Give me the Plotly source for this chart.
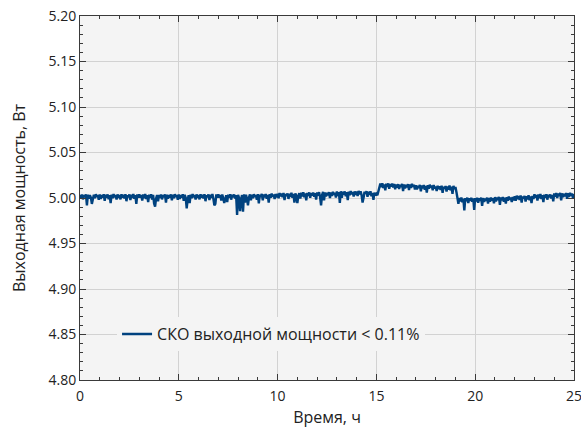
import plotly.graph_objects as go

time_step_h = 0.05
# Output power, mW, one reading every 0.05 h (20 readings per hour, 0..25 h)
power_mw = [
    # 0 h
    5003.5, 5000.0, 5003.9, 4998.5, 5003.3, 5000.7, 5004.1, 4992.0, 5003.6, 4999.3,
    5003.1, 5000.5, 4993.5, 4997.5, 5003.7, 4999.7, 5004.2, 5001.0, 5003.4, 4998.0,
    # 1 h
    5003.8, 4999.0, 5003.2, 5000.6, 5004.1, 4997.0, 5003.5, 5000.3, 5003.9, 4998.7,
    5003.0, 4994.5, 5003.7, 4999.9, 5004.3, 5000.8, 5003.4, 4998.3, 5004.0, 5000.1,
    # 2 h
    5003.3, 4998.5, 5004.1, 5000.4, 5003.6, 4999.5, 5004.2, 4996.5, 5003.1, 5000.9,
    5003.8, 4997.7, 5003.5, 5000.0, 5004.4, 4999.1, 5003.2, 4993.5, 5003.9, 5000.5,
    # 3 h
    5004.0, 5000.6, 5003.4, 4997.3, 5003.8, 4999.8, 5004.3, 4998.9, 5003.0, 4995.5,
    5003.7, 5000.3, 5004.1, 4998.2, 5003.5, 4994.0, 4990.5, 4999.5, 5003.3, 4996.3,
    # 4 h
    5003.5, 5000.0, 5003.9, 4998.5, 5003.3, 5000.7, 5004.1, 4995.0, 5003.6, 4999.3,
    5003.1, 5000.5, 5004.0, 4997.5, 5003.7, 4999.7, 5004.2, 5001.0, 5003.4, 4998.0,
    # 5 h
    5003.8, 4999.0, 5003.2, 5000.6, 5004.1, 4997.0, 5003.5, 5000.3, 4988.5, 4998.7,
    5003.0, 4994.5, 5003.7, 4999.9, 5004.3, 5000.8, 5003.4, 4998.3, 5004.0, 5000.1,
    # 6 h
    5003.3, 4998.5, 5004.1, 5000.4, 5003.6, 4999.5, 5004.2, 4996.5, 5003.1, 5000.9,
    5003.8, 4997.7, 5003.5, 5000.0, 5004.4, 4999.1, 4992.0, 4993.5, 5003.9, 5000.5,
    # 7 h
    5004.0, 5000.6, 5003.4, 4997.3, 5003.8, 4999.8, 4994.5, 4998.9, 5003.0, 4995.5,
    5003.7, 5000.3, 5004.1, 4998.2, 5003.5, 5000.7, 5003.9, 4999.5, 5003.3, 4981.5,
    # 8 h
    5003.5, 5000.0, 4985.5, 4998.5, 5003.3, 4985.0, 5004.1, 4995.0, 5003.6, 4999.3,
    4992.0, 5000.5, 5004.0, 4997.5, 5003.7, 4999.7, 5004.2, 5001.0, 5003.4, 4998.0,
    # 9 h
    5004.3, 4994.0, 5003.7, 5001.1, 5004.6, 4997.5, 5004.0, 5000.8, 5004.4, 4999.2,
    5003.5, 4995.0, 5004.2, 5000.4, 5004.8, 5001.3, 5003.9, 4998.8, 5004.5, 5000.6,
    # 10 h
    5004.6, 4999.8, 5005.4, 5001.7, 5004.9, 5000.8, 5005.5, 4997.8, 5004.4, 5002.2,
    5005.1, 4999.0, 5004.8, 5001.3, 5005.7, 5000.4, 5004.5, 4994.8, 5005.2, 5001.8,
    # 11 h
    4994.5, 5002.6, 5005.4, 4999.3, 5005.8, 5001.8, 5006.3, 5000.9, 5005.0, 4997.5,
    5005.7, 5002.3, 5006.1, 5000.2, 5005.5, 5002.7, 5005.9, 5001.5, 5005.3, 4998.3,
    # 12 h
    5006.0, 5002.5, 5006.4, 5001.0, 4992.0, 5003.2, 5006.6, 4997.5, 5006.1, 5001.8,
    5005.6, 5003.0, 5006.5, 5000.0, 5006.2, 5002.2, 5006.7, 5003.5, 5005.9, 5000.5,
    # 13 h
    5007.1, 5002.3, 5006.5, 4994.5, 5007.4, 5000.3, 5006.8, 5003.6, 5007.2, 5002.0,
    5006.3, 4997.8, 5007.0, 5003.2, 5007.6, 5004.1, 5006.7, 5001.6, 5007.3, 5003.4,
    # 14 h
    5007.0, 5002.2, 5007.8, 5004.1, 5007.3, 5003.2, 4995.0, 5000.2, 5006.8, 5004.6,
    5007.5, 5001.4, 5006.8, 5003.3, 5007.3, 5002.0, 5005.7, 4998.0, 5006.0, 5003.0,
    # 15 h
    5004.5, 5003.0, 5008.5, 5012.5, 5015.8, 5011.8, 5016.3, 5010.9, 5015.0, 5008.5,
    5015.7, 5012.3, 5016.1, 5010.2, 5015.5, 5012.7, 5015.9, 5011.5, 5015.3, 5009.5,
    # 16 h
    5014.8, 5011.3, 5015.2, 5009.8, 5014.6, 5012.0, 5015.4, 5007.5, 5014.9, 5010.6,
    5014.4, 5011.8, 5015.3, 5008.8, 5015.0, 5011.0, 5015.5, 5012.3, 5014.7, 5009.3,
    # 17 h
    5014.1, 5009.3, 5013.5, 5010.9, 5014.4, 5007.3, 5013.8, 5010.6, 5014.2, 5009.0,
    5013.3, 5006.0, 5014.0, 5010.2, 5014.6, 5011.1, 5013.7, 5008.6, 5014.3, 5010.4,
    # 18 h
    5012.6, 5007.8, 5013.4, 5009.7, 5012.9, 5008.8, 5013.5, 5005.8, 5012.4, 5010.2,
    5013.1, 5007.0, 5012.8, 5009.3, 5013.7, 5008.4, 5012.5, 5004.5, 5013.2, 5009.8,
    # 19 h
    5012.0, 5006.5, 5001.0, 4993.6, 5000.1, 4996.1, 5000.6, 4995.2, 4999.3, 4986.5,
    5000.0, 4996.6, 5000.4, 4994.5, 4999.8, 4997.0, 5000.2, 4995.8, 4999.6, 4987.0,
    # 20 h
    4999.8, 4996.3, 5000.2, 4994.8, 4999.6, 4997.0, 5000.4, 4991.3, 4999.9, 4995.6,
    4999.4, 4996.8, 5000.3, 4993.8, 5000.0, 4996.0, 5000.5, 4997.3, 4999.7, 4994.3,
    # 21 h
    5001.0, 4996.2, 5000.4, 4997.8, 5001.3, 4992.5, 5000.7, 4997.5, 5001.1, 4995.9,
    5000.2, 4994.0, 5000.9, 4997.1, 5001.5, 4998.0, 5000.6, 4995.5, 5001.2, 4997.3,
    # 22 h
    5001.8, 4997.0, 5002.6, 4998.9, 5002.1, 4998.0, 5002.7, 4995.0, 5001.6, 4999.4,
    5002.3, 4996.2, 5002.0, 4998.5, 5002.9, 4997.6, 5001.7, 4994.5, 5002.4, 4999.0,
    # 23 h
    5004.0, 5000.6, 5003.4, 4997.3, 5003.8, 4999.8, 5004.3, 4998.9, 5003.0, 4995.5,
    5003.7, 5000.3, 5004.1, 4998.2, 5003.5, 5000.7, 5003.9, 4999.5, 5003.3, 4996.3,
    # 24 h
    5005.0, 5001.5, 5005.4, 5000.0, 5004.8, 5002.2, 5005.6, 4997.5, 5005.1, 5000.8,
    5004.6, 5002.0, 5005.5, 4999.0, 5005.2, 5001.2, 5005.7, 5002.5, 5004.9, 4999.5,
    # 25 h
    5004.5,
]
time_h = [round(i * time_step_h, 3) for i in range(len(power_mw))]
power_w = [v / 1000.0 for v in power_mw]

x_ticks = [0, 5, 10, 15, 20, 25]
y_ticks = [4.80, 4.85, 4.90, 4.95, 5.00, 5.05, 5.10, 5.15, 5.20]
legend_label = "СКО выходной мощности < 0.11%"

line_color = "#00427f"
plot_bg = "#f4f4f4"
grid_color = "#d2d2d2"
axis_color = "#3a3a3a"
font_family = "Open Sans, Noto Sans, sans-serif"

fig = go.Figure()
fig.add_trace(go.Scatter(
    x=time_h, y=power_w, mode="lines", name=legend_label,
    line=dict(color=line_color, width=2.4),
))

axis_common = dict(
    showline=True, linecolor=axis_color, linewidth=1, mirror="ticks",
    ticks="inside", ticklen=6, tickcolor=axis_color, tickwidth=1,
    showgrid=True, gridcolor=grid_color, gridwidth=1, zeroline=False,
    tickfont=dict(size=14, color="#222222", family=font_family),
    ticklabeloverflow="allow", automargin=False,
)

fig.update_layout(
    width=581, height=434,
    margin=dict(l=80, r=7, t=16, b=54),
    paper_bgcolor="white", plot_bgcolor=plot_bg,
    font=dict(family=font_family, color="#222222"),
    showlegend=True,
    legend=dict(
        x=0.075, y=0.126, xanchor="left", yanchor="middle",
        bgcolor=plot_bg, borderwidth=0,
        font=dict(size=16, family=font_family, color="#222222"),
    ),
    xaxis=dict(
        range=[0, 25], tickvals=x_ticks, ticktext=[str(v) for v in x_ticks],
        ticklabelstandoff=3,
        title=dict(text="Время, ч", font=dict(size=16, family=font_family), standoff=8),
        minor=dict(dtick=1, ticks="inside", ticklen=3, tickcolor=axis_color, showgrid=False),
        **axis_common,
    ),
    yaxis=dict(
        range=[4.80, 5.20], tickvals=y_ticks, ticktext=[f"{v:.2f}" for v in y_ticks],
        title=dict(text="Выходная мощность, Вт", font=dict(size=16, family=font_family), standoff=18),
        minor=dict(dtick=0.01, tick0=4.80, ticks="inside", ticklen=3, tickcolor=axis_color, showgrid=False),
        **axis_common,
    ),
)

fig.write_html("out.html")
